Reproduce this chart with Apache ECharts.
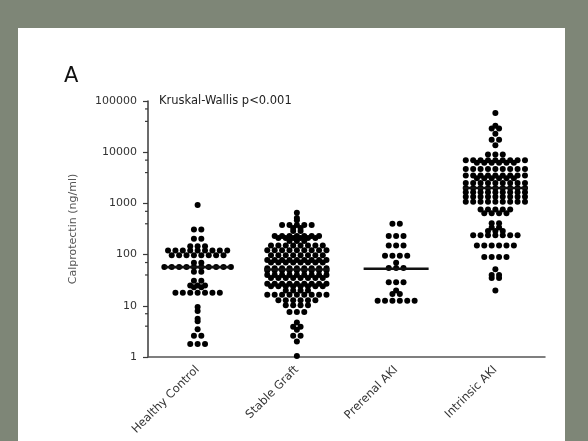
<!DOCTYPE html>
<html>
<head>
<meta charset="utf-8">
<script src="https://cdn.jsdelivr.net/npm/echarts@6/dist/echarts.min.js"></script>
<style>
  html, body { margin: 0; padding: 0; }
  body { width: 588px; height: 441px; background: #7e8677; position: relative; overflow: hidden; }
  #panel { position: absolute; left: 18px; top: 28px; width: 547px; height: 413px; background: #fff; }
  #chart { position: absolute; left: 0; top: 0; width: 588px; height: 441px; }
</style>
</head>
<body>
<div id="panel"></div>
<div id="chart"></div>
<script>
const groups = ['Healthy Control', 'Stable Graft', 'Prerenal AKI', 'Intrinsic AKI']

// each row: [calprotectin ng/ml, number of dots side by side]
const healthyControl = [
  [930, 1], [310, 2], [205, 2], [145, 3], [120, 9], [97, 8], [69, 2], [57, 10],
  [46, 2], [31, 2], [25, 3], [23, 2], [18, 7], [9.5, 1], [7.9, 1], [5.6, 1],
  [5.0, 1], [3.5, 1], [2.6, 2], [1.8, 3]
]
const stableGraft = [
  [660, 1], [520, 1], [470, 1], [380, 5], [330, 2], [290, 2], [230, 7], [210, 6],
  [185, 3], [150, 8], [122, 9], [97, 8], [78, 9], [70, 8], [54, 9],
  [49, 9], [40, 9], [35, 8], [27, 9], [24, 8], [20, 4], [16.5, 9],
  [12.8, 6], [10.2, 4], [7.6, 3], [4.7, 1], [3.9, 2], [3.4, 1], [2.6, 2], [2.0, 1], [1.05, 1]
]
const prerenalAKI = [
  [400, 2], [230, 3], [150, 3], [95, 4], [69, 1], [55, 3], [29, 3], [20, 1], [17, 2], [12.6, 6]
]
const intrinsicAKI = [
  [58000, 1], [33000, 1], [29000, 2], [23000, 1], [17600, 2], [13600, 1], [9000, 3],
  [7000, 9], [6200, 6], [4700, 9], [3500, 9], [3100, 6], [2500, 9], [2000, 9],
  [1650, 9], [1350, 9], [1080, 9], [760, 5], [640, 4], [410, 2], [340, 2], [290, 3],
  [240, 7], [150, 6], [90, 4], [52, 1], [40, 2], [35, 2], [20, 1]
]
const medians = [57, 51, 53, 2000]
const minorTicks = [4, 7, 40, 70, 400, 700, 4000, 7000, 40000, 70000]

const GRID = { left: 148, top: 101, right: 43, bottom: 84 }
const pxPerCat = (588 - GRID.left - GRID.right) / groups.length
const DOT_GAP = 7.4

// lay each row out centred on its category, like a column scatter plot
function rowsToPoints(rows, idx) {
  const pts = []
  rows.forEach(([v, n]) => {
    for (let i = 0; i < n; i++) {
      pts.push([idx + (i - (n - 1) / 2) * DOT_GAP / pxPerCat, v])
    }
  })
  return pts
}

const dots = [healthyControl, stableGraft, prerenalAKI, intrinsicAKI]
  .map((rows, i) => rowsToPoints(rows, i))
  .flat()

const font = 'DejaVu Sans, Verdana, sans-serif'
const chart = echarts.init(document.getElementById('chart'))

chart.setOption({
  animation: false,
  backgroundColor: 'transparent',
  grid: GRID,
  graphic: [
    { type: 'text', left: 64, top: 66, style: { text: 'A', fontSize: 21, fontFamily: font, fill: '#111' } },
    { type: 'text', left: 159, top: 95, style: { text: 'Kruskal-Wallis p<0.001', fontSize: 11.5, fontFamily: font, fill: '#222' } }
  ],
  xAxis: [
    {
      type: 'category',
      data: groups,
      axisLine: { lineStyle: { color: '#555', width: 1.5 } },
      axisTick: { alignWithLabel: true, length: 5, lineStyle: { color: '#444', width: 1.5 } },
      axisLabel: { rotate: 45, margin: 11, fontSize: 11.5, color: '#333', fontFamily: font }
    },
    { type: 'value', min: -0.5, max: 3.5, show: false }
  ],
  yAxis: {
    type: 'log',
    logBase: 10,
    min: 1,
    max: 100000,
    name: 'Calprotectin (ng/ml)',
    nameLocation: 'middle',
    nameGap: 69,
    nameTextStyle: { fontSize: 11, color: '#555', fontFamily: font },
    axisLine: { show: true, onZero: false, lineStyle: { color: '#3a3a3a', width: 1.5 } },
    axisTick: { show: true, length: 5, lineStyle: { color: '#3a3a3a', width: 1.2 } },
    axisLabel: { fontSize: 11, color: '#333', margin: 11, fontFamily: font, formatter: v => String(v) },
    splitLine: { show: false }
  },
  series: [
    {
      type: 'scatter',
      xAxisIndex: 1,
      data: dots,
      symbolSize: 6,
      itemStyle: { color: '#000', opacity: 1 },
      clip: false,
      silent: true
    },
    {
      type: 'scatter',
      xAxisIndex: 1,
      data: medians.map((m, i) => [i, m]),
      symbol: 'rect',
      symbolSize: [65, 2.6],
      itemStyle: { color: '#111', opacity: 1 },
      z: 5,
      silent: true
    },
    {
      // minor ticks on the log axis
      type: 'scatter',
      xAxisIndex: 1,
      data: minorTicks.map(v => [-0.5, v]),
      symbol: 'rect',
      symbolSize: [3, 1.2],
      symbolOffset: [-1.5, 0],
      itemStyle: { color: '#3a3a3a', opacity: 1 },
      clip: false,
      silent: true
    }
  ]
})
</script>
</body>
</html>
